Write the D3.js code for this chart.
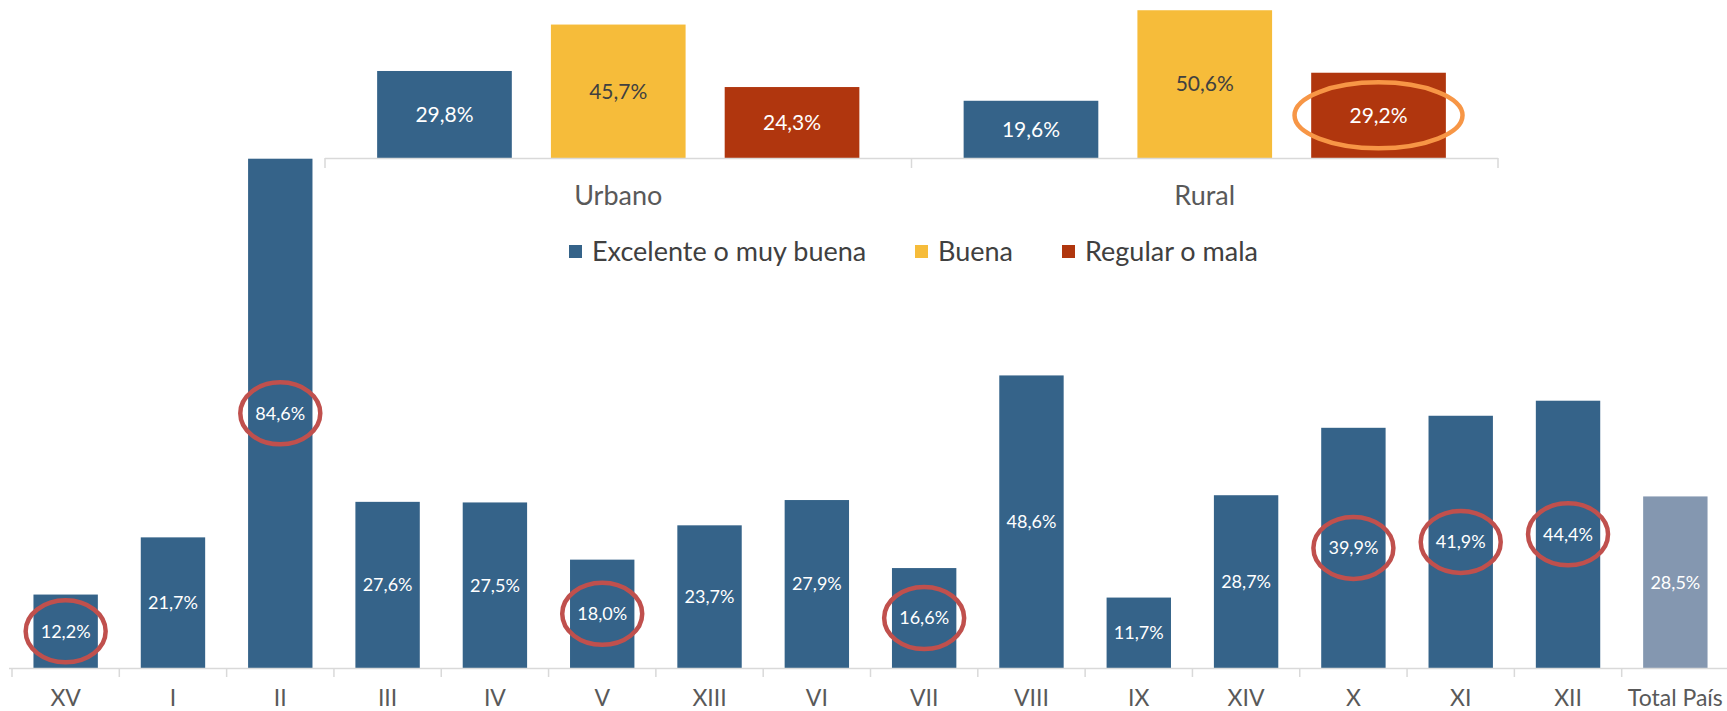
<!DOCTYPE html>
<html>
<head>
<meta charset="utf-8">
<script src="https://cdn.jsdelivr.net/npm/d3@7"></script>
<style>
  body { margin: 0; background: #fff; }
  text { font-family: Lato, "Open Sans", sans-serif; }
</style>
</head>
<body>
<div id="chart"></div>
<script>
// regiones y porcentaje
const regiones = ["XV", "I", "II", "III", "IV", "V", "XIII", "VI", "VII", "VIII", "IX", "XIV", "X", "XI", "XII", "Total País"]
const valores = [12.2, 21.7, 84.6, 27.6, 27.5, 18.0, 23.7, 27.9, 16.6, 48.6, 11.7, 28.7, 39.9, 41.9, 44.4, 28.5]
const destacadas = ["XV", "II", "V", "VII", "X", "XI", "XII"]

// grafico chico urbano / rural
const zonas = ["Urbano", "Rural"]
const categorias = ["Excelente o muy buena", "Buena", "Regular o mala"]
const urbano = [29.8, 45.7, 24.3]
const rural = [19.6, 50.6, 29.2]
const colores = ["#356389", "#f6bc3a", "#b0360e"]

const width = 1727, height = 711
const locale = d3.formatLocale({ decimal: ",", thousands: ".", grouping: [3], currency: ["$", ""] })
const fmt = v => locale.format(".1%")(v / 100)

const svg = d3.select("#chart").append("svg")
    .attr("width", width)
    .attr("height", height)

// --- grafico principal ---
const x = d3.scaleBand().domain(regiones).range([12, 1729]).paddingInner(0.4).paddingOuter(0.2)
const y = d3.scaleLinear().domain([0, 100]).range([668, 66])

svg.selectAll(".bar")
    .data(regiones)
    .enter().append("rect")
    .attr("class", "bar")
    .attr("x", d => x(d))
    .attr("width", x.bandwidth())
    .attr("y", (d, i) => y(valores[i]))
    .attr("height", (d, i) => y(0) - y(valores[i]))
    .attr("fill", d => d == "Total País" ? "#8497b0" : "#356389")

svg.selectAll(".lbl")
    .data(regiones)
    .enter().append("text")
    .attr("class", "lbl")
    .attr("x", d => x(d) + x.bandwidth() / 2)
    .attr("y", (d, i) => (y(valores[i]) + y(0)) / 2)
    .attr("dy", "0.35em")
    .attr("text-anchor", "middle")
    .attr("font-size", 18)
    .attr("fill", "#fff")
    .text((d, i) => fmt(valores[i]))

svg.selectAll(".marca")
    .data(destacadas)
    .enter().append("ellipse")
    .attr("class", "marca")
    .attr("cx", d => x(d) + x.bandwidth() / 2)
    .attr("cy", d => { const v = valores[regiones.indexOf(d)]; return (y(v) + y(0)) / 2 })
    .attr("rx", 40)
    .attr("ry", 31)
    .attr("fill", "none")
    .attr("stroke", "#c0504d")
    .attr("stroke-width", 4.5)

// eje x
const step = x.step()
const ax = svg.append("g")
ax.append("line")
    .attr("x1", 9).attr("x2", 1727)
    .attr("y1", y(0) + 0.5).attr("y2", y(0) + 0.5)
    .attr("stroke", "#d9d9d9").attr("stroke-width", 1.5)
ax.selectAll(".tk")
    .data(regiones)
    .enter().append("line")
    .attr("class", "tk")
    .attr("x1", d => x(d) + x.bandwidth() / 2 - step / 2)
    .attr("x2", d => x(d) + x.bandwidth() / 2 - step / 2)
    .attr("y1", y(0)).attr("y2", y(0) + 9)
    .attr("stroke", "#d9d9d9").attr("stroke-width", 1.5)
ax.selectAll(".cat")
    .data(regiones)
    .enter().append("text")
    .attr("class", "cat")
    .attr("x", d => x(d) + x.bandwidth() / 2)
    .attr("y", 706)
    .attr("text-anchor", "middle")
    .attr("font-size", 23)
    .attr("fill", "#595959")
    .text(d => d)

// --- grafico chico ---
const x0 = d3.scaleBand().domain(zonas).range([325, 1498])
const x1 = d3.scaleBand().domain(categorias).range([0, x0.bandwidth()]).paddingInner(0.225).paddingOuter(0.3)
const yi = d3.scaleLinear().domain([0, 100]).range([158, -134])

const datosZona = zonas.map((z, i) => ({ zona: z, valores: i == 0 ? urbano : rural }))

const grp = svg.selectAll(".zona")
    .data(datosZona)
    .enter().append("g")
    .attr("class", "zona")
    .attr("transform", d => "translate(" + x0(d.zona) + ",0)")

grp.selectAll("rect")
    .data(d => d.valores.map((v, j) => ({ cat: categorias[j], v: v, j: j })))
    .enter().append("rect")
    .attr("x", d => x1(d.cat))
    .attr("width", x1.bandwidth())
    .attr("y", d => yi(d.v))
    .attr("height", d => yi(0) - yi(d.v))
    .attr("fill", d => colores[d.j])

grp.selectAll(".ilbl")
    .data(d => d.valores.map((v, j) => ({ cat: categorias[j], v: v, j: j })))
    .enter().append("text")
    .attr("class", "ilbl")
    .attr("x", d => x1(d.cat) + x1.bandwidth() / 2)
    .attr("y", d => (yi(d.v) + yi(0)) / 2)
    .attr("dy", "0.35em")
    .attr("text-anchor", "middle")
    .attr("font-size", 21)
    .attr("fill", d => d.j == 1 ? "#404040" : "#fff")
    .text(d => fmt(d.v))

// ovalo naranjo en rural regular o mala
const vr = rural[2]
svg.append("ellipse")
    .attr("cx", x0("Rural") + x1("Regular o mala") + x1.bandwidth() / 2)
    .attr("cy", (yi(vr) + yi(0)) / 2)
    .attr("rx", 84)
    .attr("ry", 33)
    .attr("fill", "none")
    .attr("stroke", "#f79646")
    .attr("stroke-width", 4.5)

// eje chico
svg.append("line")
    .attr("x1", 325).attr("x2", 1498)
    .attr("y1", yi(0) + 0.5).attr("y2", yi(0) + 0.5)
    .attr("stroke", "#d9d9d9").attr("stroke-width", 1.5)
svg.selectAll(".itk")
    .data([x0("Urbano"), x0("Rural"), x0("Rural") + x0.bandwidth()])
    .enter().append("line")
    .attr("class", "itk")
    .attr("x1", d => d).attr("x2", d => d)
    .attr("y1", yi(0)).attr("y2", yi(0) + 10)
    .attr("stroke", "#d9d9d9").attr("stroke-width", 1.5)
svg.selectAll(".zlbl")
    .data(zonas)
    .enter().append("text")
    .attr("class", "zlbl")
    .attr("x", d => x0(d) + x0.bandwidth() / 2)
    .attr("y", 205)
    .attr("text-anchor", "middle")
    .attr("font-size", 27)
    .attr("fill", "#595959")
    .text(d => d)

// leyenda
const leyX = [569, 915, 1062]
const ley = svg.selectAll(".ley")
    .data(categorias)
    .enter().append("g")
    .attr("class", "ley")
    .attr("transform", (d, i) => "translate(" + leyX[i] + ",245)")
ley.append("rect")
    .attr("width", 13).attr("height", 13)
    .attr("fill", (d, i) => colores[i])
ley.append("text")
    .attr("x", 23).attr("y", 16)
    .attr("font-size", 27)
    .attr("fill", "#404040")
    .text(d => d)
</script>
</body>
</html>
